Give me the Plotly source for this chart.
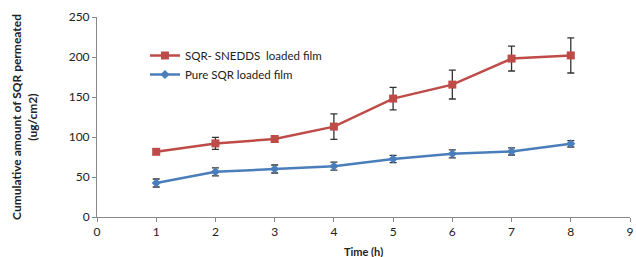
import plotly.graph_objects as go

time_h = [1, 2, 3, 4, 5, 6, 7, 8]
sneddds_film = [81.5, 92, 97.5, 113, 148, 165.5, 198, 202]
sneddds_err = [3, 7.5, 4, 16, 14, 18, 15.5, 22]
pure_film = [42.5, 56.5, 60, 63.5, 72.5, 79, 82, 91.5]
pure_err = [5, 5, 5, 5, 4.5, 5, 4.5, 4]

red = "#BE4B48"
blue = "#4A7EBB"
font = "Lato"

fig = go.Figure()
fig.add_trace(go.Scatter(
    x=time_h, y=sneddds_film, mode="lines+markers", name="SQR- SNEDDS  loaded film",
    line=dict(color=red, width=2.5),
    marker=dict(symbol="square", size=8, color=red),
    error_y=dict(type="data", array=sneddds_err, color="#333333", thickness=1.3, width=3.5),
))
fig.add_trace(go.Scatter(
    x=time_h, y=pure_film, mode="lines+markers", name="Pure SQR loaded film",
    line=dict(color=blue, width=2.5),
    marker=dict(symbol="diamond", size=7, color=blue),
    error_y=dict(type="data", array=pure_err, color="#333333", thickness=1.3, width=3.5),
))

fig.update_layout(
    width=636, height=257,
    margin=dict(l=97, r=6, t=17, b=40, autoexpand=False),
    paper_bgcolor="white", plot_bgcolor="white",
    font=dict(family=font, size=12, color="#222222"),
    showlegend=True,
    legend=dict(x=0.09, y=0.88, xanchor="left", yanchor="top",
                bgcolor="rgba(0,0,0,0)", font=dict(size=11.5, color="#222222")),
    xaxis=dict(range=[0, 9], tickmode="linear", tick0=0, dtick=1, automargin=False,
               showgrid=False, zeroline=False, showline=True, linecolor="#888888",
               ticks="outside", ticklen=4, tickcolor="#888888"),
    yaxis=dict(range=[0, 250], tickmode="linear", tick0=0, dtick=50, automargin=False,
               showgrid=False, zeroline=False, showline=True, linecolor="#888888",
               ticks="outside", ticklen=4, tickcolor="#888888"),
    annotations=[
        dict(text="<b>Cumulative amount of SQR permeated<br>(ug/cm2)</b>",
             xref="paper", yref="paper", x=-0.137, y=0.5, textangle=-90,
             showarrow=False, font=dict(size=12, family=font, color="#222222"),
             xanchor="center", yanchor="middle"),
        dict(text="<b>Time (h)</b>",
             xref="paper", yref="paper", x=0.5, y=-0.17,
             showarrow=False, font=dict(size=11, family=font, color="#222222"),
             xanchor="center", yanchor="middle"),
    ],
)

fig.write_html("out.html", config={"displayModeBar": False},
               post_script="document.body.style.margin='0';document.body.style.overflow='hidden';")
